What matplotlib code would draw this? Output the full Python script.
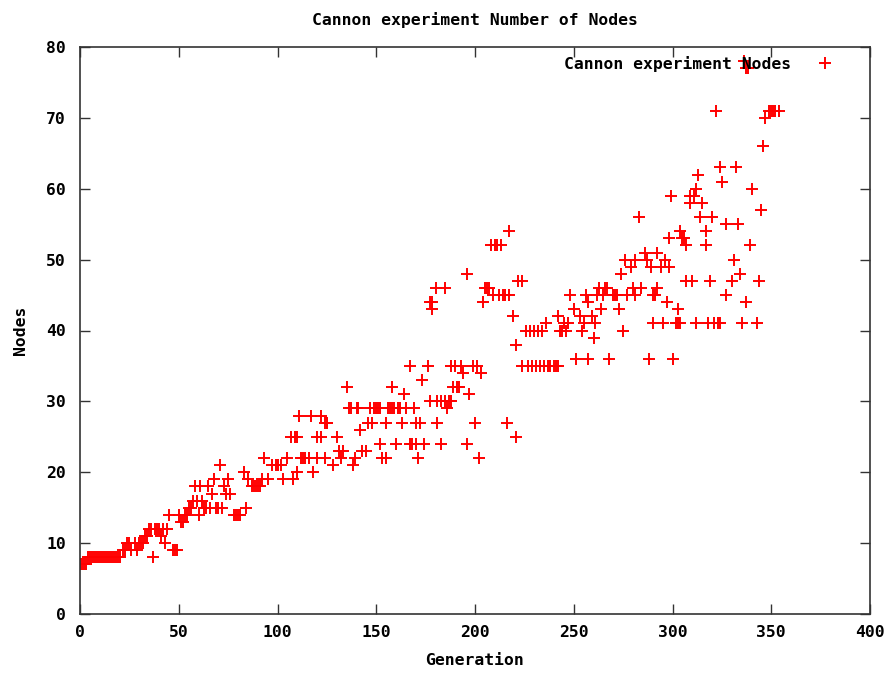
import matplotlib
matplotlib.use("Agg")
import matplotlib.pyplot as plt

title = "Cannon experiment Number of Nodes"
series_label = "Cannon experiment Nodes"
x_label = "Generation"
y_label = "Nodes"

generation = [
    0, 1, 2, 3, 4, 5, 6, 7, 8, 9, 10, 11, 12, 13, 14, 15, 16, 17, 18, 19, 20,
    22, 23, 24, 25, 26, 28, 29, 30, 31, 32, 33, 34, 35, 36, 37, 38, 39, 40, 41, 42, 43, 44, 45, 47, 48, 49,
    50, 51, 52, 53, 54, 55, 56, 57, 58, 59, 60, 61, 62, 63, 64, 65, 66, 67, 68, 69, 70, 71, 72, 73, 74, 75, 76,
    78, 79, 80, 81, 83, 84, 85, 87, 88, 89, 90, 91, 92, 93, 95, 97, 99, 100, 102, 103, 105,
    107, 108, 109, 110, 110, 111, 112, 113, 114, 116, 117, 118, 120, 120, 122, 122, 124, 124, 125, 125,
    128, 130, 131, 132, 133, 135, 136, 137, 138, 139, 140, 141, 142, 143, 145, 146, 147, 148, 149, 150, 151, 152,
    152, 153, 155, 155, 156, 157, 158, 158, 159, 160, 161, 162, 163, 164, 165, 167, 167, 168, 169, 170, 170,
    171, 172, 173, 174, 176, 177, 177, 178, 178, 180, 181, 181, 183, 183, 185, 185, 186, 187, 188, 188, 189,
    190, 191, 192, 193, 194, 196, 196, 197, 199, 200, 201, 202, 203, 204, 205, 206, 207, 208, 209, 210, 211,
    212, 213, 214, 215, 216, 217, 217, 219, 221, 221, 222, 224, 224, 226, 227, 228, 229, 230, 231, 232, 233,
    234, 235, 236, 237, 238, 240, 241, 242, 242, 243, 244, 245, 246, 247, 248, 250, 251, 253, 254, 255, 256,
    257, 257, 259, 260, 261, 262, 263, 264, 265, 266, 267, 268, 270, 271, 272, 273, 274, 275, 276, 277, 279,
    280, 281, 281, 283, 284, 286, 287, 288, 289, 290, 290, 291, 292, 292, 294, 295, 296, 297, 298, 298, 299,
    300, 302, 303, 303, 304, 304, 305, 306, 307, 307, 309, 309, 310, 311, 312, 312, 313, 314, 315, 317, 317,
    318, 319, 320, 321, 322, 323, 324, 324, 325, 327, 327, 330, 331, 332, 333, 334, 335, 336, 337, 337, 338,
    339, 340, 343, 344, 345, 346, 347, 349, 350, 351, 352, 354,
]
nodes = [
    7, 7, 7, 7, 8, 8, 8, 8, 8, 8, 8, 8, 8, 8, 8, 8, 8, 8, 8, 8, 8,
    9, 9, 10, 10, 9, 10, 9, 10, 10, 10, 11, 11, 12, 12, 8, 12, 12, 12, 11, 12, 10, 12, 14, 9, 9, 9,
    14, 13, 13, 14, 14, 15, 15, 16, 18, 16, 14, 18, 16, 15, 15, 18, 15, 17, 19, 15, 15, 21, 15, 18, 17, 19, 17,
    14, 14, 14, 14, 20, 15, 19, 18, 18, 18, 18, 18, 19, 22, 19, 21, 21, 21, 21, 19, 22,
    25, 19, 25, 20, 25, 28, 22, 22, 22, 22, 28, 20, 22, 25, 28, 25, 27, 22, 27, 27,
    21, 25, 23, 22, 23, 32, 29, 29, 21, 22, 29, 29, 26, 23, 23, 27, 29, 27, 29, 29, 29, 24,
    29, 22, 27, 22, 29, 29, 32, 29, 29, 24, 29, 29, 27, 31, 29, 24, 35, 24, 29, 27, 24,
    22, 27, 33, 24, 35, 30, 44, 44, 43, 46, 27, 30, 24, 30, 46, 30, 29, 30, 35, 30, 32,
    35, 32, 32, 35, 34, 48, 24, 31, 35, 27, 35, 22, 34, 44, 46, 46, 46, 52, 45, 52, 52,
    45, 52, 45, 45, 27, 54, 45, 42, 38, 25, 47, 47, 35, 40, 35, 40, 35, 40, 35, 40, 35,
    40, 35, 41, 35, 35, 35, 35, 42, 35, 40, 40, 41, 40, 41, 45, 43, 36, 42, 40, 41, 45,
    36, 44, 42, 39, 41, 45, 46, 43, 45, 46, 46, 36, 45, 45, 45, 43, 48, 40, 50, 45, 49,
    46, 50, 45, 56, 46, 51, 50, 36, 49, 41, 45, 45, 46, 51, 49, 41, 50, 44, 53, 49, 59,
    36, 41, 41, 43, 54, 41, 53, 53, 52, 47, 59, 58, 47, 59, 41, 60, 62, 56, 58, 54, 52,
    41, 47, 56, 41, 71, 41, 63, 41, 61, 45, 55, 47, 50, 63, 55, 48, 41, 78, 77, 44, 77,
    52, 60, 41, 47, 57, 66, 70, 71, 71, 71, 71, 71,
]

x_ticks = [0, 50, 100, 150, 200, 250, 300, 350, 400]
y_ticks = [0, 10, 20, 30, 40, 50, 60, 70, 80]

W, H = 890, 673
fig = plt.figure(figsize=(W / 100, H / 100), dpi=100)
ax = fig.add_axes([80 / W, 1 - 614 / H, 790 / W, 567 / H])

FS = 11.8
font = dict(family="DejaVu Sans Mono", weight="bold", size=FS)

ax.plot(generation, nodes, linestyle="none", marker="+", color="#ff0000",
        markersize=9, markeredgewidth=1.4, label=series_label)

ax.set_xlim(0, 400)
ax.set_ylim(0, 80)
ax.set_xticks(x_ticks)
ax.set_yticks(y_ticks)
ax.set_xticklabels([str(v) for v in x_ticks], **font)
ax.set_yticklabels([str(v) for v in y_ticks], **font)
ax.tick_params(axis="x", direction="in", top=True, length=7, width=1,
               color="#333333", pad=8)
ax.tick_params(axis="y", direction="in", right=True, length=7, width=1,
               color="#333333", pad=10)
for s in ax.spines.values():
    s.set_color("#333333")
    s.set_linewidth(1.2)

ax.set_title(title, pad=16, **font)
ax.set_xlabel(x_label, labelpad=9, **font)
ax.set_ylabel(y_label, labelpad=13, **font)

leg = ax.legend(loc="upper right", frameon=False, markerfirst=False,
                prop=dict(family="DejaVu Sans Mono", weight="bold", size=FS),
                handlelength=1.5, borderaxespad=0, borderpad=0.4,
                handletextpad=1.35,
                bbox_to_anchor=(844 / W, 1 - 49 / H), bbox_transform=fig.transFigure)

fig.savefig("out.png", dpi=100)
